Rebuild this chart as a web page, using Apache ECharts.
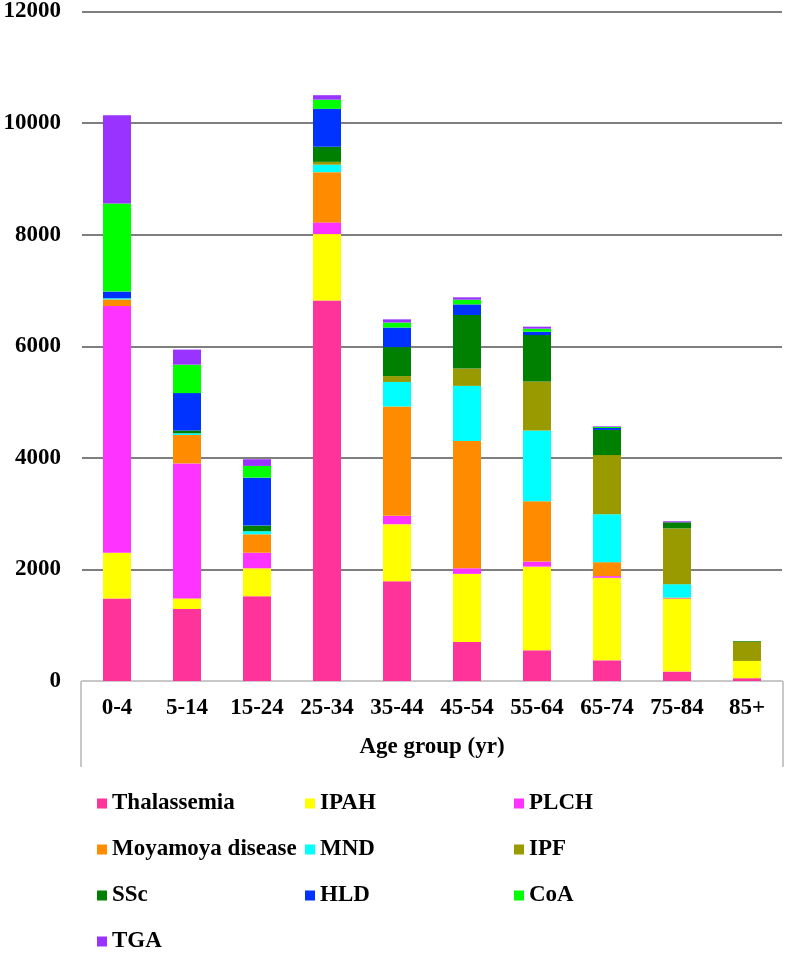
<!DOCTYPE html>
<html>
<head>
<meta charset="utf-8">
<script src="https://cdn.jsdelivr.net/npm/echarts@6/dist/echarts.min.js"></script>
<style>html,body{margin:0;padding:0;background:#fff}#c{width:787px;height:954px}</style>
</head>
<body>
<div id="c"></div>
<script>
var categories = ['0-4','5-14','15-24','25-34','35-44','45-54','55-64','65-74','75-84','85+'];
var seriesNames = ['Thalassemia','IPAH','PLCH','Moyamoya disease','MND','IPF','SSc','HLD','CoA','TGA'];
var thalassemia = [1480, 1290, 1520, 6820, 1790, 700, 550, 370, 170, 50];
var ipah        = [820, 190, 500, 1190, 1020, 1220, 1500, 1480, 1300, 310];
var plch        = [4420, 2420, 280, 210, 150, 100, 90, 30, 10, 0];
var moyamoya    = [120, 510, 330, 900, 1960, 2280, 1080, 250, 15, 0];
var mnd         = [20, 30, 55, 135, 440, 990, 1270, 860, 240, 0];
var ipf         = [0, 0, 0, 50, 105, 310, 880, 1060, 1000, 345];
var ssc         = [0, 50, 100, 270, 520, 960, 830, 450, 110, 12];
var hld         = [120, 670, 860, 680, 350, 190, 60, 35, 0, 0];
var coa         = [1580, 510, 210, 165, 90, 85, 55, 18, 0, 0];
var tga         = [1580, 270, 120, 80, 57, 42, 36, 12, 18, 0];
var yTicks = [0, 2000, 4000, 6000, 8000, 10000, 12000];

var values = [thalassemia, ipah, plch, moyamoya, mnd, ipf, ssc, hld, coa, tga];
var colors = ['#FF3399','#FFFF00','#FF33FF','#FF8C00','#00FFFF','#999900','#008000','#0033FF','#00FF00','#9933FF'];
var FONT = '"Liberation Serif","Times New Roman",serif';

var chart = echarts.init(document.getElementById('c'), null, {renderer:'canvas'});
var series = seriesNames.map(function(n, i){
  return {name:n, type:'bar', stack:'total', barWidth:'40%', data: values[i],
    itemStyle:{color: colors[i]}};
});
function legendFor(names, left){
  return {data: names, orient:'vertical', left: left, top: 792, height: 200, padding: 0,
    itemWidth: 10, itemHeight: 10,
    itemGap: 23, icon:'rect', selectedMode:false,
    textStyle:{fontFamily: FONT, fontWeight:'bold', fontSize:23, color:'#000', lineHeight:23}};
}
chart.setOption({
  animation:false,
  color: colors,
  grid:{left:82, right:5, top:9, bottom:273},
  xAxis:{type:'category', data: categories,
    axisLine:{show:true, lineStyle:{color:'#c8c8c8', width:2}},
    axisTick:{show:false},
    axisLabel:{fontFamily:FONT, fontWeight:'bold', fontSize:23, color:'#000', margin:16},
    name:'Age group (yr)', nameLocation:'middle', nameGap:55,
    nameTextStyle:{fontFamily:FONT, fontWeight:'bold', fontSize:23, color:'#000'}},
  yAxis:{type:'value', min:yTicks[0], max:yTicks[yTicks.length-1], interval:2000,
    axisLine:{show:false}, axisTick:{show:false},
    splitLine:{lineStyle:{color:'#555', width:1.5}},
    axisLabel:{fontFamily:FONT, fontWeight:'bold', fontSize:23, color:'#000', margin:21,
      formatter:function(v){ return String(v); }}},
  legend:[
    legendFor(['Thalassemia','Moyamoya disease','SSc','TGA'], 97),
    legendFor(['IPAH','MND','HLD'], 305),
    legendFor(['PLCH','IPF','CoA'], 514)
  ],
  graphic:[
    {type:'line', shape:{x1:81, y1:681, x2:81, y2:767}, style:{stroke:'#c8c8c8', lineWidth:2}},
    {type:'line', shape:{x1:783, y1:681, x2:783, y2:767}, style:{stroke:'#c8c8c8', lineWidth:2}}
  ],
  series: series
});
</script>
</body>
</html>
